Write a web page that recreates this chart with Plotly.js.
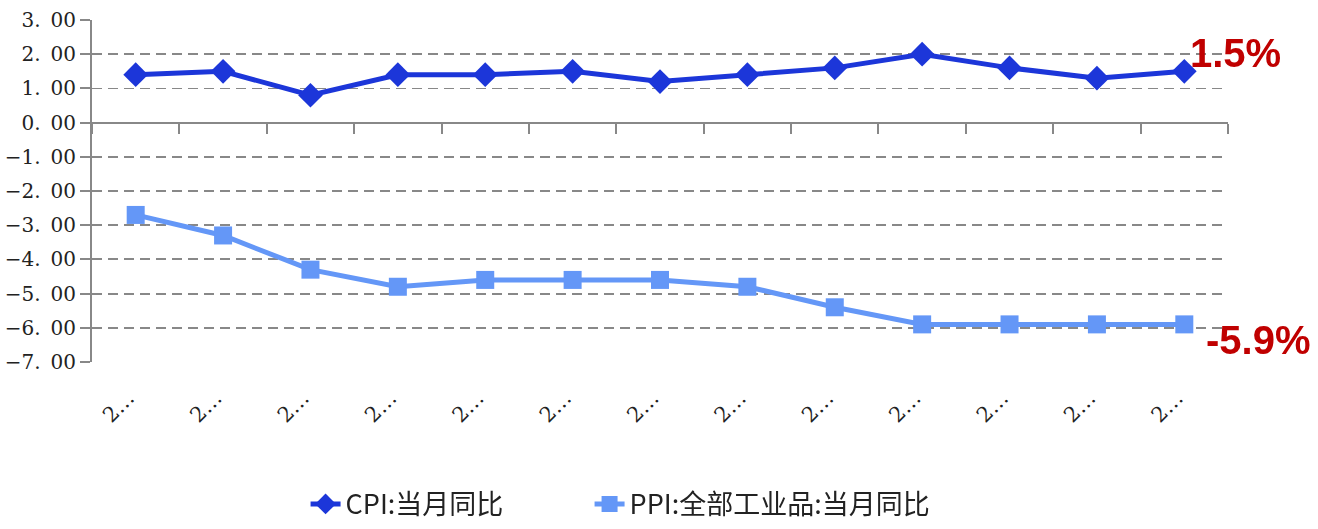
<!DOCTYPE html>
<html>
<head>
<meta charset="utf-8">
<script src="https://cdn.plot.ly/plotly-3.0.1.min.js"></script>
<style>html,body{margin:0;padding:0;background:#fff;}#chart{width:1318px;height:529px;}</style>
</head>
<body>
<div id="chart"></div>
<script>
// Months (2014-11 .. 2015-11); the chart shows them truncated as "2…"
const months = ['2014-11','2014-12','2015-01','2015-02','2015-03','2015-04','2015-05','2015-06','2015-07','2015-08','2015-09','2015-10','2015-11'];
const monthLabels = ['2…','2…','2…','2…','2…','2…','2…','2…','2…','2…','2…','2…','2…'];
const cpi = [1.4, 1.5, 0.8, 1.4, 1.4, 1.5, 1.2, 1.4, 1.6, 2.0, 1.6, 1.3, 1.5];
const ppi = [-2.7, -3.3, -4.3, -4.8, -4.6, -4.6, -4.6, -4.8, -5.4, -5.9, -5.9, -5.9, -5.9];
const yTickVals = [3, 2, 1, 0, -1, -2, -3, -4, -5, -6, -7];
const yTickText = ['3.\u200200','2.\u200200','1.\u200200','0.\u200200','−1.\u200200','−2.\u200200','−3.\u200200','−4.\u200200','−5.\u200200','−6.\u200200','−7.\u200200'];
const seriesNames = ['CPI:当月同比', 'PPI:全部工业品:当月同比'];
const endLabels = ['1.5%', '-5.9%'];

const gray = '#888888';
const cpiColor = '#1c36d9';
const ppiColor = '#6497f7';

const traces = [
  {x: months, y: cpi, name: seriesNames[0], type: 'scatter', mode: 'lines+markers', legend: 'legend',
   line: {color: cpiColor, width: 5}, marker: {symbol: 'diamond', size: 19, color: cpiColor},
   xaxis: 'x', yaxis: 'y', hoverinfo: 'skip'},
  {x: months, y: ppi, name: seriesNames[1], type: 'scatter', mode: 'lines+markers', legend: 'legend2',
   line: {color: ppiColor, width: 5}, marker: {symbol: 'square', size: 18, color: ppiColor},
   xaxis: 'x', yaxis: 'y', hoverinfo: 'skip'},
  {x: months, y: cpi, type: 'scatter', mode: 'markers', opacity: 0, showlegend: false,
   xaxis: 'x2', yaxis: 'y', hoverinfo: 'skip', marker: {size: 1}}
];

const legendFont = {family: 'Noto Sans CJK SC', size: 27, color: '#222'};
const last = months.length - 1;
const layout = {
  width: 1318, height: 529,
  margin: {l: 92, r: 90, t: 20, b: 167, autoexpand: false},
  paper_bgcolor: '#fff', plot_bgcolor: '#fff',
  showlegend: true,
  legend: {orientation: 'h', x: 0.188, xanchor: 'left', y: -0.488, yanchor: 'bottom', font: legendFont, bgcolor: 'rgba(0,0,0,0)'},
  legend2: {orientation: 'h', x: 0.438, xanchor: 'left', y: -0.488, yanchor: 'bottom', font: legendFont, bgcolor: 'rgba(0,0,0,0)'},
  xaxis: {type: 'category', categoryorder: 'array', categoryarray: months, range: [-0.5, 12.5],
          tickmode: 'array', tickvals: months, ticktext: monthLabels.map(s => s + '\u2002'), tickangle: -45, automargin: false,
          showline: false, ticks: '', showgrid: false, zeroline: false, ticklabelstandoff: 11,
          tickfont: {family: 'DejaVu Serif', size: 21, color: '#222'}},
  xaxis2: {type: 'category', categoryorder: 'array', categoryarray: months, range: [-0.5, 12.5],
           overlaying: 'x', anchor: 'free', position: 0.7, side: 'bottom', automargin: false,
           showline: true, linecolor: gray, linewidth: 2, ticks: 'outside', tickson: 'boundaries',
           ticklen: 10, tickwidth: 2, tickcolor: gray, showticklabels: false, showgrid: false, zeroline: false},
  yaxis: {range: [-7, 3], tickmode: 'array', tickvals: yTickVals, ticktext: yTickText, automargin: false,
          showline: true, linecolor: gray, linewidth: 2, ticks: 'outside', ticklen: 10, tickwidth: 2, tickcolor: gray,
          showgrid: true, gridcolor: gray, gridwidth: 1.8, griddash: '10px,6px',
          zeroline: false, tickfont: {family: 'DejaVu Serif', size: 20, color: '#222'}},
  annotations: [
    {x: months[last], y: cpi[last], xref: 'x', yref: 'y', text: '<b>' + endLabels[0] + '</b>', showarrow: false,
     xanchor: 'left', yanchor: 'middle', xshift: 4, yshift: 18,
     font: {family: 'Liberation Sans', size: 40, color: '#c00000'}},
    {x: months[last], y: ppi[last], xref: 'x', yref: 'y', text: '<b>' + endLabels[1] + '</b>', showarrow: false,
     xanchor: 'left', yanchor: 'middle', xshift: 20, yshift: -16,
     font: {family: 'Liberation Sans', size: 40, color: '#c00000'}}
  ]
};

Plotly.newPlot('chart', traces, layout, {displayModeBar: false, staticPlot: true});
</script>
</body>
</html>
